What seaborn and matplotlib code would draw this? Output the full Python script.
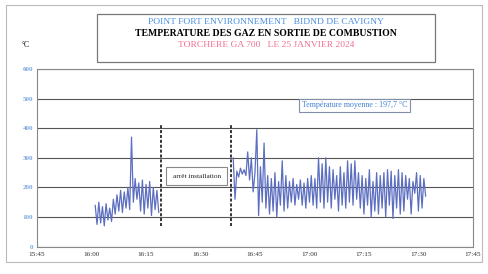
import pandas as pd
import matplotlib.pyplot as plt
import seaborn as sns
from matplotlib.patches import Rectangle

sns.set_theme(style="white")
plt.rcParams['font.family'] = ['Liberation Serif', 'DejaVu Sans']

# --- données (relevé toutes les 30 s) ---
seg1_start = "2024-01-25 16:01:00"
seg1_temp = [140, 75, 150, 80, 135, 70, 145, 90, 130, 85,
             160, 110, 175, 120, 190, 115, 185, 130, 200, 125,
             370, 150, 230, 160,
             215, 120, 225, 110, 210, 130, 220, 105, 200, 125, 190, 115]

seg2_start = "2024-01-25 16:39:00"
seg2_temp = [300, 160, 255, 235, 265, 245, 260, 240, 320, 225,
             300, 185, 250, 395, 105, 270, 150, 350, 130, 240,
             110, 230, 120, 250, 100, 220, 140, 290, 120, 240,
             130, 220, 150, 230, 140, 210, 160, 225, 140, 215,
             130, 230, 150, 240, 140, 230, 130, 300, 150, 280,
             130, 300, 150, 270, 130, 260, 160, 240, 120, 270,
             140, 250, 130, 290, 150, 280, 140, 290, 160, 250,
             130, 240, 110, 230, 140, 260, 100, 220, 120, 250,
             110, 240, 130, 250, 100, 260, 140, 255, 95, 240,
             130, 260, 110, 250, 120, 240, 160, 230, 110, 220,
             180, 250, 120, 240, 130, 230, 170]

base_time = pd.Timestamp("2024-01-25 15:45:00")
tick_labels = ["15:45", "16:00", "16:15", "16:30", "16:45", "17:00", "17:15", "17:30", "17:45"]
stop_times = ["2024-01-25 16:19:00", "2024-01-25 16:38:30"]
mean_temp = "197,7"

title_l1 = "POINT FORT ENVIRONNEMENT   BIDND DE CAVIGNY"
title_l2 = "TEMPERATURE DES GAZ EN SORTIE DE COMBUSTION"
title_l3 = "TORCHERE GA 700   LE 25 JANVIER 2024"


def minutes(t):
    return (pd.to_datetime(t) - base_time).total_seconds() / 60


t1 = pd.date_range(seg1_start, periods=len(seg1_temp), freq="30s")
t2 = pd.date_range(seg2_start, periods=len(seg2_temp), freq="30s")
df = pd.concat([
    pd.DataFrame({"t": minutes(t1), "temp": seg1_temp, "seg": 1}),
    pd.DataFrame({"t": minutes(t2), "temp": seg2_temp, "seg": 2}),
])

fig = plt.figure(figsize=(4.88, 2.74), dpi=100)
ax = fig.add_axes([0.076, 0.10, 0.893, 0.648])

sns.lineplot(data=df, x="t", y="temp", units="seg", estimator=None,
             color="#5c6ec0", linewidth=0.9, ax=ax)

# arrêt installation
for st in stop_times:
    ax.plot([minutes(st), minutes(st)], [70, 410], color="black",
            linestyle=(0, (2, 1.2)), linewidth=1.1)
ax.text(44, 238, "arrêt installation", ha="center", va="center", fontsize=5.2,
        color="#222222",
        bbox=dict(boxstyle="square,pad=0.9", fc="white", ec="#888888", lw=0.8))

ax.text(0.729, 0.795, f"Température moyenne : {mean_temp} °C", transform=ax.transAxes,
        ha="center", va="center", fontsize=5.7, color="#3f7fd0",
        bbox=dict(boxstyle="square,pad=0.35", fc="white", ec="#8090a8", lw=0.8))

ax.set_xlim(0, 120)
ax.set_ylim(0, 600)
ax.set_xticks(range(0, 121, 15))
ax.set_xticklabels(tick_labels)
ax.set_yticks(range(0, 601, 100))
ax.yaxis.grid(True, color="#555555", linewidth=0.8)
ax.set_xlabel("")
ax.set_ylabel("")
ax.tick_params(axis="x", labelsize=5.2, colors="#333333", pad=4, length=0)
ax.tick_params(axis="y", labelsize=5, colors="#7aa7e0", pad=3, length=0)
for lbl in ax.get_yticklabels():
    lbl.set_fontweight("bold")
for s in ax.spines.values():
    s.set_color("#888888")
    s.set_linewidth(0.8)

# cadre du titre
fig.patches.append(Rectangle((0.199, 0.775), 0.693, 0.175, transform=fig.transFigure,
                             fill=False, ec="#777777", lw=0.9))
fig.text(0.545, 0.918, title_l1, ha="center", va="center", fontsize=6.8, color="#4a8fe0")
fig.text(0.545, 0.876, title_l2, ha="center", va="center", fontsize=7, color="black",
         fontweight="bold")
fig.text(0.545, 0.834, title_l3, ha="center", va="center", fontsize=6.8, color="#f07090")
fig.text(0.052, 0.835, "°C", ha="center", va="center", fontsize=5.5, color="black")

# cadre extérieur
fig.patches.append(Rectangle((0.012, 0.045), 0.975, 0.935, transform=fig.transFigure,
                             fill=False, ec="#bbbbbb", lw=0.8))

fig.savefig("out.png", dpi=100)
plt.close(fig)
